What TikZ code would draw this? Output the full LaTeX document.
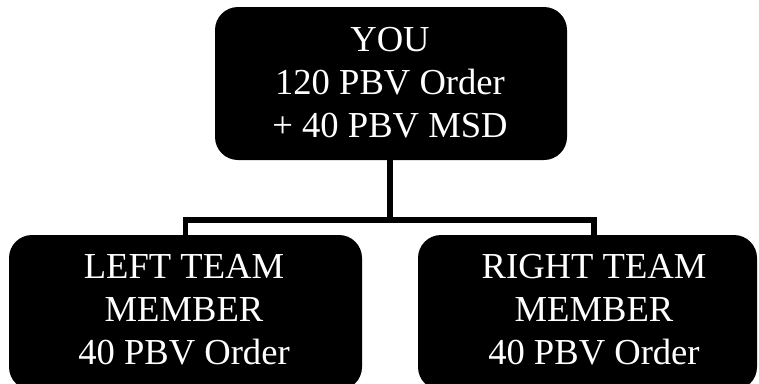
\documentclass[tikz,border=0pt]{standalone}
\usepackage{fontspec}
\setmainfont{Liberation Serif}
\begin{document}
\begin{tikzpicture}[x=1pt,y=-1pt,
  box/.style={fill=black,draw=none,rounded corners=23pt,inner sep=0pt},
  lbl/.style={text=white,align=center,inner sep=0pt,font=\fontsize{36.6}{43}\selectfont},
  conn/.style={draw=black,line width=5.5pt,line join=miter}]
\useasboundingbox (0,0) rectangle (759,383);
\node[box,minimum width=352pt,minimum height=153pt] (you) at (391,83.5) {};
\node[box,minimum width=353pt,minimum height=155pt] (left) at (185.5,312.5) {};
\node[box,minimum width=339pt,minimum height=155pt] (right) at (587.5,312.5) {};
\coordinate (j) at (390,220);
\draw[conn] (j |- you.south) -- (j);
\node[lbl] (youtxt) at (390,82.5) {YOU\\120 PBV Order\\+ 40 PBV MSD};
\node[lbl] (lefttxt) at (184,309.5) {LEFT TEAM\\MEMBER\\40 PBV Order};
\node[lbl] (righttxt) at (594,309.5) {RIGHT TEAM\\MEMBER\\40 PBV Order};
\draw[conn] (left.north) -- (left.north |- j) -- (j -| righttxt) -- (righttxt |- right.north);
\end{tikzpicture}
\end{document}
